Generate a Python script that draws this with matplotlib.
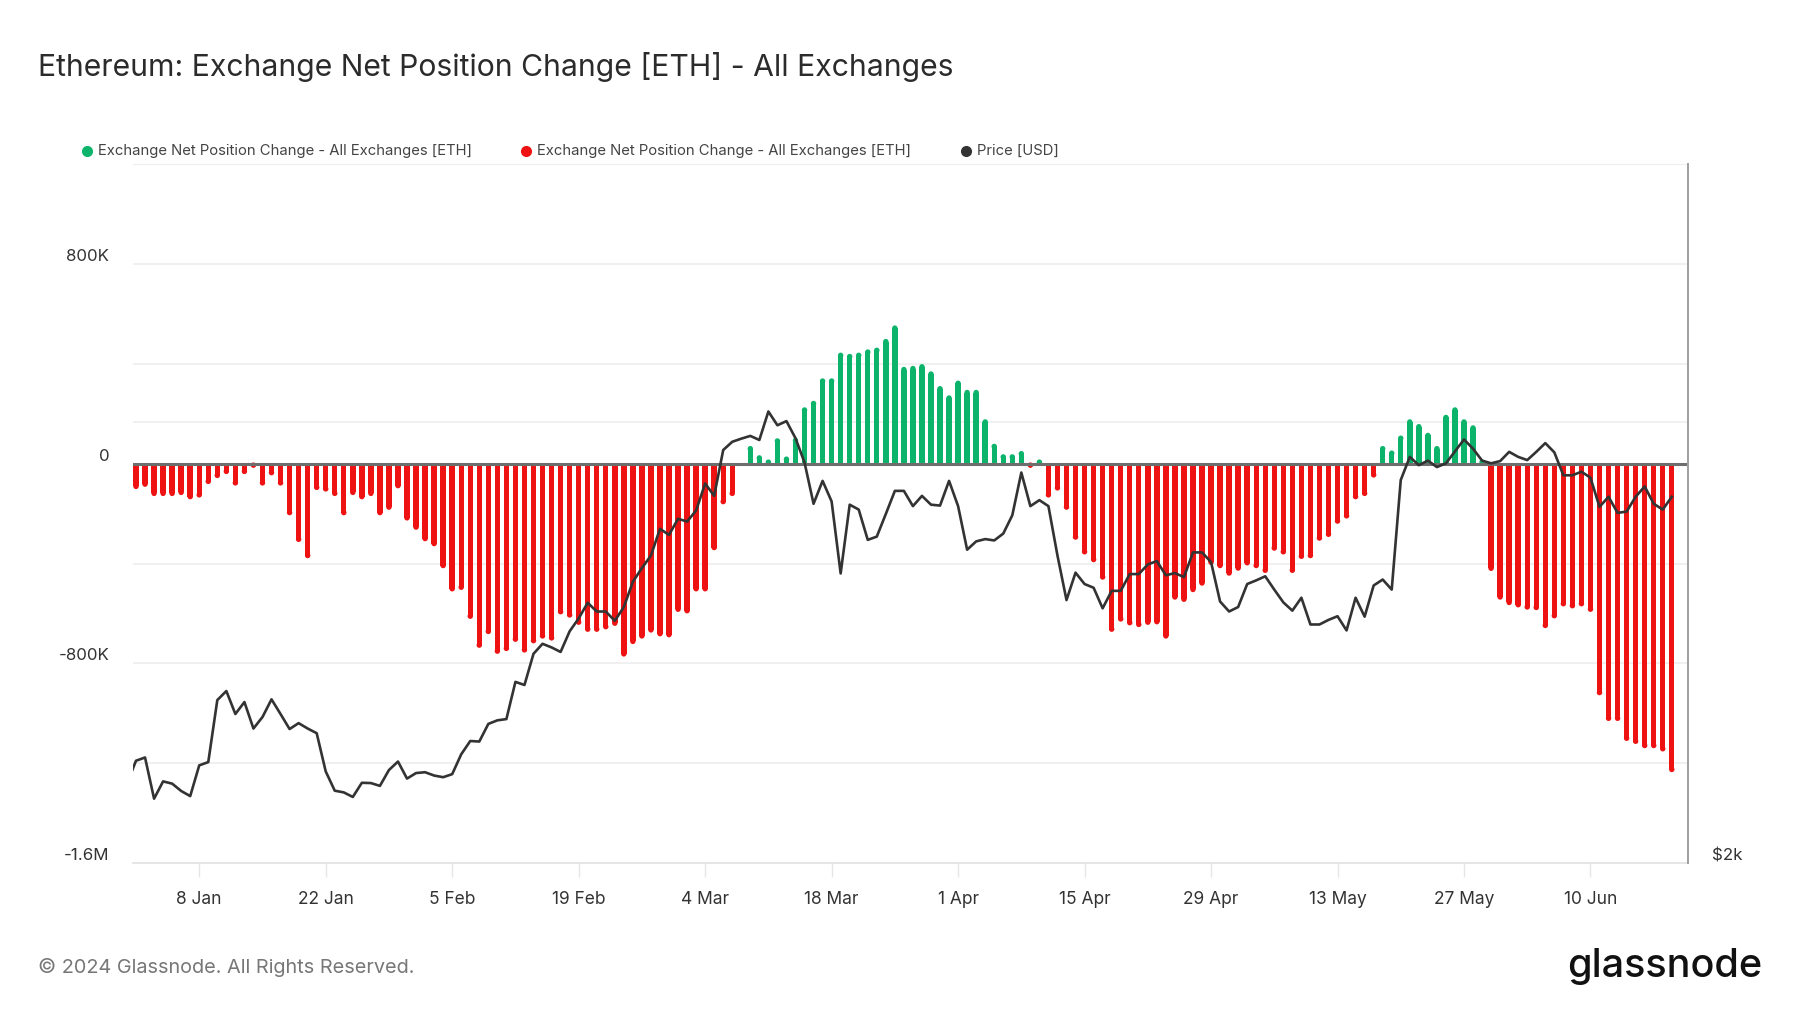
import pandas as pd
import numpy as np
import matplotlib
matplotlib.use('Agg')
import matplotlib.pyplot as plt
import matplotlib.dates as mdates
from matplotlib.lines import Line2D

plt.rcParams['font.family'] = ['Inter', 'DejaVu Sans']

# Daily exchange net position change, 1 Jan - 19 Jun 2024 (thousand ETH)
net_change_k = [
    -101, -92, -129, -129, -129, -125, -142, -135, -81, -57,
    -41, -87, -41, -13, -87, -46, -87, -206, -313, -378,
    -105, -111, -129, -206, -125, -142, -129, -206, -184, -98,
    -227, -264, -310, -330, -418, -511, -505, -621, -737, -682,
    -761, -750, -713, -756, -719, -700, -708, -603, -616, -645,
    -673, -673, -663, -649, -772, -722, -700, -676, -691, -695,
    -593, -599, -511, -511, -346, -162, -129, 0, 70, 33,
    5, 101, 28, 103, 225, 251, 341, 341, 444, 439,
    444, 457, 464, 499, 553, 387, 391, 398, 369, 310,
    273, 332, 295, 295, 177, 79, 37, 37, 50, -13,
    11, -135, -107, -184, -304, -363, -394, -464, -673, -632,
    -647, -654, -645, -643, -700, -544, -553, -514, -488, -405,
    -418, -448, -428, -407, -418, -437, -348, -363, -437, -381,
    -378, -308, -293, -240, -219, -142, -129, -55, 70, 52,
    112, 177, 158, 123, 70, 195, 225, 177, 153, 5,
    -429, -544, -566, -575, -584, -586, -658, -619, -571, -579,
    -571, -593, -927, -1030, -1030, -1110, -1122, -1139, -1139, -1152,
    -1235,
]

# ETH price in USD, 31 Dec 2023 - 19 Jun 2024
price_usd = [
    2266,
    2349, 2361, 2213, 2274, 2266, 2240, 2222, 2332, 2344, 2584,
    2621, 2528, 2576, 2471, 2516, 2587, 2528, 2469, 2492, 2471,
    2453, 2310, 2241, 2235, 2219, 2269, 2268, 2258, 2315, 2346,
    2284, 2304, 2307, 2295, 2289, 2300, 2373, 2423, 2421, 2489,
    2503, 2508, 2659, 2646, 2779, 2823, 2807, 2787, 2879, 2938,
    3011, 2970, 2970, 2927, 2991, 3112, 3180, 3243, 3382, 3350,
    3436, 3421, 3481, 3632, 3562, 3828, 3878, 3897, 3914, 3889,
    4067, 3980, 4006, 3900, 3754, 3518, 3647, 3531, 3153, 3513,
    3486, 3324, 3341, 3462, 3590, 3590, 3505, 3562, 3513, 3508,
    3647, 3505, 3273, 3316, 3328, 3321, 3357, 3455, 3695, 3505,
    3538, 3505, 3243, 3024, 3157, 3101, 3083, 2985, 3068, 3068,
    3150, 3150, 3198, 3215, 3144, 3155, 3135, 3259, 3259, 3210,
    3017, 2970, 2991, 3101, 3119, 3139, 3074, 3013, 2974, 3035,
    2910, 2910, 2931, 2948, 2883, 3035, 2946, 3094, 3123, 3074,
    3652, 3787, 3738, 3765, 3727, 3749, 3820, 3892, 3836, 3765,
    3749, 3762, 3817, 3787, 3768, 3817, 3870, 3814, 3679, 3679,
    3700, 3665, 3501, 3557, 3468, 3475, 3557, 3615, 3518, 3486,
    3557,
]

tick_dates = ['2024-01-08', '2024-01-22', '2024-02-05', '2024-02-19', '2024-03-04', '2024-03-18',
              '2024-04-01', '2024-04-15', '2024-04-29', '2024-05-13', '2024-05-27', '2024-06-10']
tick_labels = ['8 Jan', '22 Jan', '5 Feb', '19 Feb', '4 Mar', '18 Mar',
               '1 Apr', '15 Apr', '29 Apr', '13 May', '27 May', '10 Jun']

y_grid = [-1600000, -1200000, -800000, -400000, 0, 400000, 800000, 1200000]
y_labels = {800000: '800K', 0: '0', -800000: '-800K', -1600000: '-1.6M'}

GREEN = '#0cb46b'
RED = '#ee1212'
LINE = '#333333'
TEXT = '#333333'

dates = pd.date_range('2024-01-01', periods=len(net_change_k), freq='D')
price_dates = pd.date_range('2023-12-31', periods=len(price_usd), freq='D')
values = np.array(net_change_k) * 1000.0
colors = [GREEN if v >= 0 else RED for v in values]

fig = plt.figure(figsize=(18, 10.13), dpi=100)
ax = fig.add_axes([0.0739, 0.148, 0.8639, 0.690])

# grid + zero line
for v in y_grid:
    if v != 0:
        ax.axhline(v, color='#eeeeee', lw=1.2, zorder=0)
ax.plot([0, 1], [0.6309, 0.6309], transform=ax.transAxes, color='#eeeeee', lw=1.2, zorder=0)

# bars with rounded tips: bar body + round marker at the end
cap_r = 10000  # ~half bar width in data units
bar_w = 0.6
nonzero = values != 0
body = np.where(np.abs(values) > cap_r, values - np.sign(values) * cap_r, 0)
ax.bar(dates, body, width=bar_w, color=colors, zorder=2)
tips = np.sign(values) * np.maximum(np.abs(values) - cap_r, cap_r * 0.6)
ax.scatter(dates[nonzero], tips[nonzero], s=3.9 ** 2, marker='o',
           c=[colors[i] for i in np.where(nonzero)[0]], linewidths=0, zorder=2)
ax.axhline(0, color='#6e6e6e', lw=2.2, zorder=3)

x0 = mdates.date2num(dates[0])
ax.set_xlim(x0 - 0.33, x0 + 171.8)
ax.set_ylim(-1600000, 1200000)

ax.set_yticks(y_grid)
ax.set_yticklabels([y_labels.get(v, '') for v in y_grid])
for lab in ax.get_yticklabels():
    lab.set_va('bottom')
ax.tick_params(axis='y', length=0, pad=17, labelsize=12.2, labelcolor=TEXT)

ax.set_xticks(pd.to_datetime(tick_dates))
ax.set_xticklabels(tick_labels)
ax.tick_params(axis='x', length=10, width=1, color='#e6e6e6', pad=10, labelsize=12.5, labelcolor=TEXT)

ax.spines['left'].set_visible(False)
ax.spines['top'].set_color('#eeeeee')
ax.spines['bottom'].set_color('#e2e2e2')
ax.spines['bottom'].set_linewidth(1.2)
ax.spines['right'].set_color('#a0a0a0')
ax.spines['right'].set_linewidth(1.4)

# price on log scale
ax2 = ax.twinx()
ax2.set_yscale('log')
ax2.plot(price_dates, price_usd, color=LINE, lw=1.9, zorder=4)
ax2.set_ylim(2000, 6000)
ax2.set_xlim(ax.get_xlim())
ax2.yaxis.set_minor_locator(matplotlib.ticker.NullLocator())
ax2.set_yticks([2000])
ax2.set_yticklabels(['$2k'])
for lab in ax2.get_yticklabels():
    lab.set_va('bottom')
ax2.tick_params(axis='y', length=0, pad=17, labelsize=12.2, labelcolor=TEXT)
for side in ['left', 'top', 'bottom']:
    ax2.spines[side].set_visible(False)
ax2.spines['right'].set_color('#a0a0a0')
ax2.spines['right'].set_linewidth(1.4)

# title
fig.text(0.021, 0.934, 'Ethereum: Exchange Net Position Change [ETH] - All Exchanges',
         fontsize=21.7, color='#2b2b2b', ha='left', va='center')

# legend
legend_items = [
    (0.0482, GREEN, 'Exchange Net Position Change - All Exchanges [ETH]'),
    (0.2922, RED, 'Exchange Net Position Change - All Exchanges [ETH]'),
    (0.5364, LINE, 'Price [USD]'),
]
ly = 0.851
for x, c, label in legend_items:
    fig.add_artist(Line2D([x], [ly], marker='o', markersize=7, color=c, linestyle='none',
                          transform=fig.transFigure))
    fig.text(x + 0.0062, ly, label, fontsize=10.7, color='#444444', ha='left', va='center')

# footer
fig.text(0.021, 0.0445, '\u00a9 2024 Glassnode. All Rights Reserved.', fontsize=14.3,
         color='#777777', ha='left', va='center')
fig.text(0.979, 0.046, 'glassnode', fontsize=28.5, color='#111111', ha='right', va='center',
         fontweight='medium')

plt.savefig('out.png', dpi=100)
